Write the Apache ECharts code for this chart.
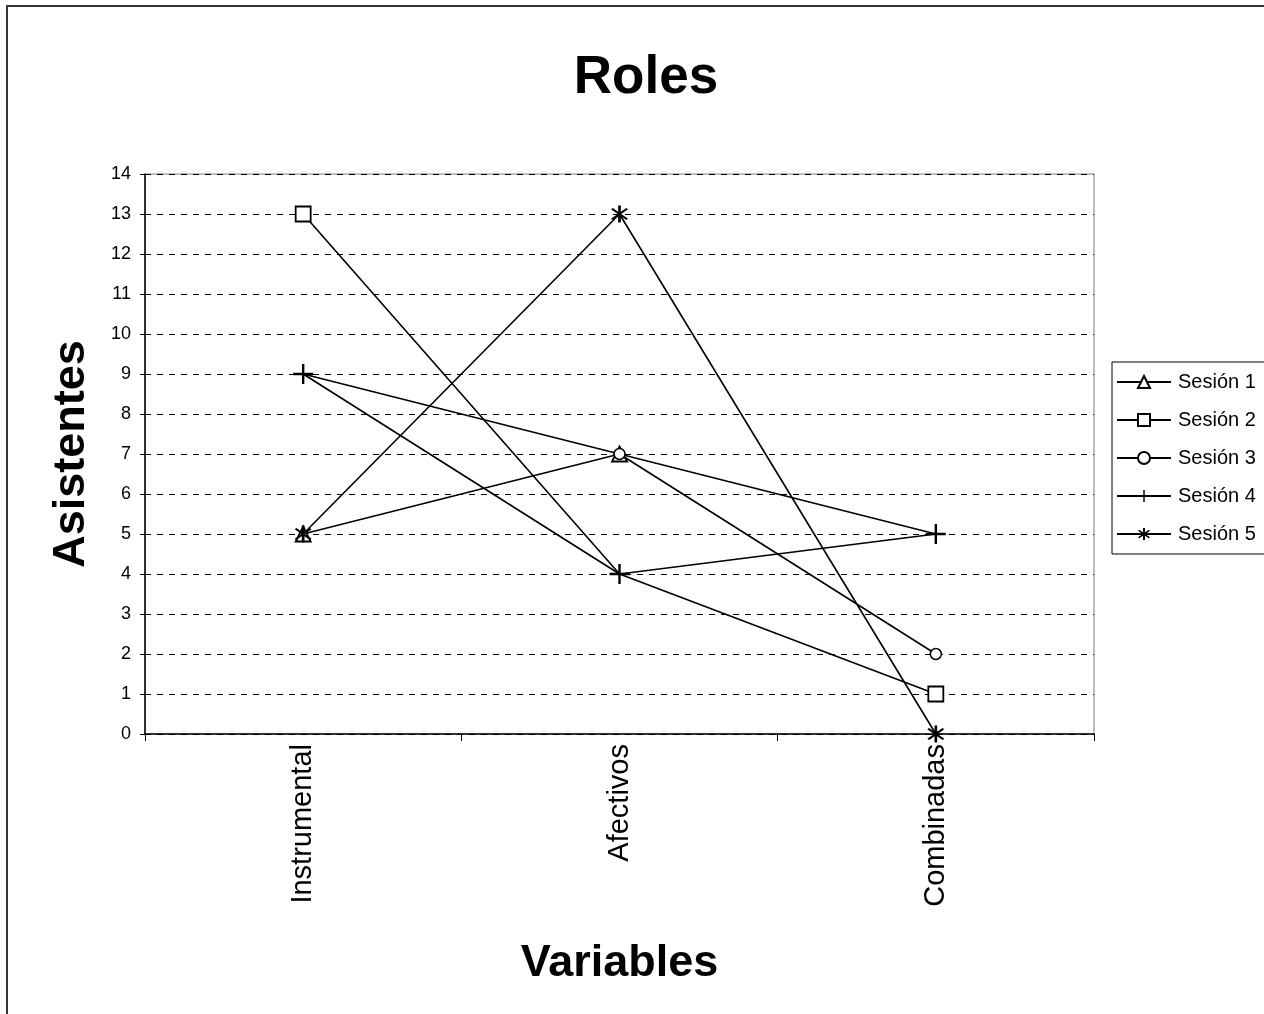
<!DOCTYPE html>
<html>
<head>
<meta charset="utf-8">
<script src="https://cdn.jsdelivr.net/npm/echarts@6/dist/echarts.min.js"></script>
<style>
html,body{margin:0;padding:0;background:#fff;}
#chart{width:1264px;height:1014px;}
</style>
</head>
<body>
<div id="chart"></div>
<script>
const categories = ['Instrumental', 'Afectivos', 'Combinadas'];
const seriesNames = ['Sesión 1', 'Sesión 2', 'Sesión 3', 'Sesión 4', 'Sesión 5'];
const sesion1 = [5, 7, 5];
const sesion2 = [13, 4, 1];
const sesion3 = [9, 7, 2];
const sesion4 = [9, 4, 5];
const sesion5 = [5, 13, 0];
const yTicks = [0, 14, 1];

const FONT = '"Liberation Sans", Arial, sans-serif';
const PLUS = 'path://M4.4,0H5.6V4.4H10V5.6H5.6V10H4.4V5.6H0V4.4H4.4Z';
const STAR = 'path://M4.4,0H5.6V10H4.4Z M1.2,2.2L2.0,1.4L8.8,7.8L8.0,8.6Z M8.0,1.4L8.8,2.2L2.0,8.6L1.2,7.8Z';

function withHidden(values, hiddenIdx) {
  return values.map((v, i) => hiddenIdx.includes(i) ? { value: v, symbol: 'none' } : v);
}

const styles = [
  { symbol: 'triangle', symbolSize: 15, fill: '#fff', bw: 1.8 },
  { symbol: 'rect', symbolSize: 15, fill: '#fff', bw: 1.8 },
  { symbol: 'circle', symbolSize: 11, fill: '#fff', bw: 1.5 },
  { symbol: PLUS, symbolSize: 20, fill: '#000', bw: 0 },
  { symbol: STAR, symbolSize: 17, fill: '#000', bw: 0 }
];
const dataSets = [
  withHidden(sesion1, [2]),
  withHidden(sesion2, [1]),
  withHidden(sesion3, [0]),
  sesion4,
  sesion5
];

const chart = echarts.init(document.getElementById('chart'));
chart.setOption({
  backgroundColor: '#fff',
  animation: false,
  title: {
    text: 'Roles',
    left: 641,
    textAlign: 'center',
    top: 47,
    textStyle: { fontFamily: FONT, fontSize: 53, fontWeight: 'bold', color: '#000' }
  },
  graphic: [{
    type: 'rect',
    shape: { x: 7, y: 6, width: 1400, height: 1200 },
    style: { fill: 'none', stroke: '#333', lineWidth: 2 },
    silent: true,
    z: 0
  }],
  legend: {
    orient: 'vertical',
    left: 1112,
    top: 362,
    padding: [10, 60, 10, 4],
    itemGap: 18,
    itemWidth: 54,
    itemHeight: 15,
    borderColor: '#000',
    borderWidth: 1,
    backgroundColor: '#fff',
    textStyle: { fontFamily: FONT, fontSize: 20, color: '#000', padding: [0, 0, 0, 2] },
    data: seriesNames
  },
  grid: {
    left: 145, top: 174, right: 170, bottom: 280,
    show: true, borderColor: '#808080', borderWidth: 1, backgroundColor: 'transparent'
  },
  xAxis: {
    type: 'category',
    data: categories,
    boundaryGap: true,
    name: 'Variables',
    nameLocation: 'middle',
    nameGap: 207,
    nameTextStyle: { fontFamily: FONT, fontSize: 45, fontWeight: 'bold', color: '#000' },
    axisLine: { lineStyle: { color: '#000', width: 1.5 } },
    axisTick: { show: true, alignWithLabel: false, length: 7, lineStyle: { color: '#000' } },
    axisLabel: { rotate: 90, margin: 10, fontFamily: FONT, fontSize: 29, color: '#000' },
    splitLine: { show: false }
  },
  yAxis: {
    type: 'value',
    min: yTicks[0],
    max: yTicks[1],
    interval: yTicks[2],
    name: 'Asistentes',
    nameLocation: 'middle',
    nameGap: 51,
    nameRotate: 90,
    nameTextStyle: { fontFamily: FONT, fontSize: 45, fontWeight: 'bold', color: '#000' },
    axisLine: { show: true, lineStyle: { color: '#000', width: 1.5 } },
    axisTick: { show: true, inside: false, length: 5, lineStyle: { color: '#000' } },
    axisLabel: { margin: 14, fontFamily: FONT, fontSize: 18, color: '#000' },
    splitLine: { show: true, lineStyle: { color: '#000', type: [6, 6], width: 1 } }
  },
  series: seriesNames.map((name, i) => ({
    name: name,
    type: 'line',
    data: dataSets[i],
    symbol: styles[i].symbol,
    symbolSize: styles[i].symbolSize,
    showAllSymbol: true,
    lineStyle: { color: '#000', width: 1.6 },
    itemStyle: { color: styles[i].fill, borderColor: '#000', borderWidth: styles[i].bw },
    z: 3 + i
  }))
});
</script>
</body>
</html>
